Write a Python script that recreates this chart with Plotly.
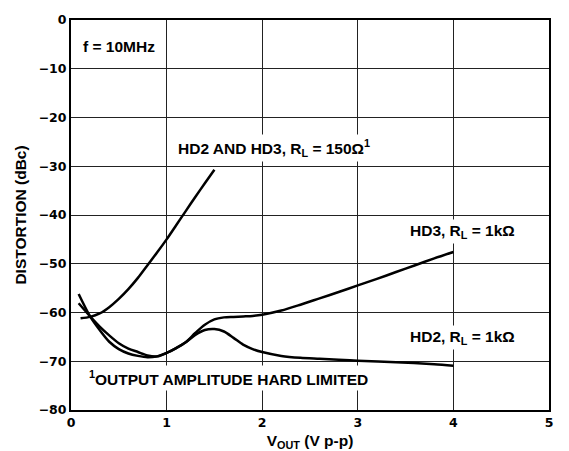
import plotly.graph_objects as go

# ---- data ----
x_150 = [0.1, 0.2, 0.3, 0.4, 0.5, 0.6, 0.7, 0.8, 0.9, 1.0, 1.1, 1.2, 1.3, 1.4, 1.5]
y_150 = [-61.2, -60.9, -60.2, -58.9, -57.2, -55.2, -52.9, -50.3, -47.7, -45.0,
         -42.1, -39.2, -36.3, -33.5, -30.7]

x_hd3 = [0.08, 0.2, 0.3, 0.4, 0.5, 0.6, 0.7, 0.8, 0.9, 1.0, 1.1, 1.2, 1.3, 1.4, 1.5,
         1.6, 1.7, 1.8, 1.9, 2.0, 2.2, 2.4, 2.6, 2.8, 3.0, 3.2, 3.4, 3.6, 3.8, 4.0]
y_hd3 = [-58.1, -60.8, -62.9, -64.7, -66.3, -67.4, -68.1, -68.8, -69.0, -68.3, -67.3,
         -66.1, -64.2, -62.5, -61.4, -61.0, -60.9, -60.8, -60.7, -60.45, -59.6, -58.4,
         -57.1, -55.8, -54.45, -53.1, -51.7, -50.3, -48.9, -47.6]

x_hd2 = [0.08, 0.2, 0.3, 0.4, 0.5, 0.6, 0.7, 0.8, 0.9, 1.0, 1.1, 1.2, 1.3, 1.4, 1.5,
         1.6, 1.7, 1.8, 1.9, 2.0, 2.2, 2.4, 2.6, 2.8, 3.0, 3.4, 3.8, 4.0]
y_hd2 = [-56.2, -60.8, -63.6, -66.0, -67.5, -68.4, -68.9, -69.2, -69.0, -68.3, -67.3,
         -66.1, -64.6, -63.6, -63.4, -63.9, -65.2, -66.6, -67.5, -68.1, -68.9, -69.3,
         -69.5, -69.7, -69.9, -70.2, -70.6, -70.9]

x_ticks = [0, 1, 2, 3, 4, 5]
y_ticks = [0, -10, -20, -30, -40, -50, -60, -70, -80]

LBL = dict(family="Liberation Sans, Arial, sans-serif", size=15.5, color="black", weight="bold")
TICK = dict(family="DejaVu Sans, sans-serif", size=12.5, color="black", weight="bold")

fig = go.Figure()
line = dict(color="black", width=2.5, shape="spline", smoothing=0.8)
for xs, ys in [(x_150, y_150), (x_hd3, y_hd3), (x_hd2, y_hd2)]:
    fig.add_trace(go.Scatter(x=xs, y=ys, mode="lines", line=line, showlegend=False,
                             hoverinfo="skip"))

annos = [
    dict(x=0.09, y=-5.4, text="f = 10MHz"),
    dict(x=1.09, y=-26.2, text="HD2 AND HD3, R<sub>L</sub> = 150Ω<sup>1</sup>"),
    dict(x=3.51, y=-43.3, text="HD3, R<sub>L</sub> = 1kΩ"),
    dict(x=3.51, y=-65.2, text="HD2, R<sub>L</sub> = 1kΩ"),
    dict(x=0.16, y=-73.4, text="<sup>1</sup>OUTPUT AMPLITUDE HARD LIMITED"),
]
for a in annos:
    fig.add_annotation(x=a["x"], y=a["y"], text=a["text"], showarrow=False,
                       xanchor="left", yanchor="middle", font=LBL,
                       bgcolor="white", borderpad=2)

axis_common = dict(showline=True, linecolor="black", linewidth=2, mirror=True,
                   showgrid=True, gridcolor="#222222", gridwidth=1, zeroline=False,
                   ticks="", tickfont=TICK, automargin=False)

fig.update_xaxes(range=[0, 5], tickvals=x_ticks, ticktext=[str(v) for v in x_ticks],
                 title=dict(text="V<sub>OUT</sub> (V p-p)", font=LBL, standoff=16),
                 **axis_common)
fig.update_yaxes(range=[-80, 0], tickvals=y_ticks,
                 ticktext=[("−" + str(-v)) if v < 0 else str(v) for v in y_ticks],
                 title=dict(text="DISTORTION (dBc)", font=LBL, standoff=8),
                 **axis_common)

# the page adds an 8px body margin, so the figure is sized to fit inside it
fig.update_layout(width=561, height=443, margin=dict(l=63, r=20, t=12, b=41),
                  plot_bgcolor="white", paper_bgcolor="white")

fig.write_html("out.html")
